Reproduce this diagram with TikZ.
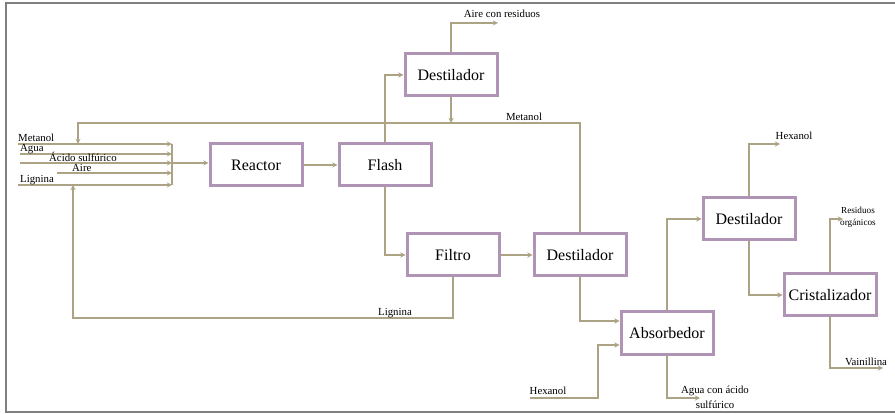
\documentclass[tikz,border=0pt]{standalone}
\usepackage{fontspec}
\setmainfont{Liberation Serif}
\usetikzlibrary{arrows}
\definecolor{boxcol}{HTML}{B094B5}
\definecolor{linecol}{HTML}{ABA384}
\definecolor{framecol}{HTML}{7F7F7F}

\begin{document}
\begin{tikzpicture}[x=1pt,y=-1pt]
\tikzstyle{box}=[draw=boxcol, line width=3pt, fill=white, minimum width=92pt, minimum height=42pt, inner sep=0pt, font=\fontsize{16}{18}\selectfont]
\tikzstyle{flow}=[draw=linecol, line width=1.3pt, ->, >=stealth]
\tikzstyle{lbl}=[inner sep=0pt, font=\fontsize{10.8}{15}\selectfont]
\useasboundingbox (0,0) rectangle (895,414);
\draw[framecol, line width=2pt] (895,3) -- (6,3) -- (6,412) -- (895,412);

% unit operations
\draw (256,165) node (reac) [box] {Reactor};
\draw (385,165) node (flash) [box] {Flash};
\draw (451,75) node (dest1) [box] {Destilador};
\draw (453,255) node (filt) [box] {Filtro};
\draw (580,255) node (dest2) [box] {Destilador};
\draw (667,333) node (absor) [box] {Absorbedor};
\draw (749,219) node (dest3) [box] {Destilador};
\draw (830,295) node (crist) [box] {Cristalizador};

% feed streams
\coordinate (metIn) at (18,144);  \coordinate (metMix) at (172,144);
\coordinate (aguaIn) at (20,154); \coordinate (aguaMix) at (172,154);
\coordinate (acidIn) at (20,163); \coordinate (acidMix) at (172,163);
\coordinate (aireIn) at (57,173); \coordinate (aireMix) at (172,173);
\coordinate (ligIn) at (18,185);  \coordinate (ligMix) at (172,185);
\draw[flow] (metIn) -- (metMix);
\draw[flow] (aguaIn) -- (aguaMix);
\draw[flow] (acidIn) -- (acidMix);
\draw[flow] (aireIn) -- (aireMix);
\draw[flow] (ligIn) -- (ligMix);
\draw[linecol, line width=1.3pt] (metMix) -- (ligMix);
\draw[flow] (acidMix) -- (acidMix -| reac.west);
\node[lbl, anchor=base west] (lMet) at (18,142) {Metanol};
\node[lbl, anchor=base west] (lAgua) at (20,152) {Agua};
\node[lbl, anchor=base west] (lAcid) at (49,162) {Ácido sulfúrico};
\node[lbl, anchor=base west] (lAire) at (72,172) {Aire};
\node[lbl, anchor=base west] (lLig) at (20,183) {Lignina};

% main line
\draw[flow] (reac) -- (flash);
\draw[flow] (flash.north) |- (dest1.west);
\draw[flow] (flash.south) |- (filt.west);
\draw[flow] (filt) -- (dest2);

% outlet streams
\coordinate (aireOut) at (498,23);
\coordinate (metBack) at (78,123);
\coordinate (metDown) at (78,144);
\coordinate (ligBack) at (73,318);
\coordinate (ligUp) at (73,185);
\coordinate (hexIn) at (530,398);
\coordinate (hexTurn) at (598,398);
\coordinate (aguaOut) at (700,398);
\coordinate (hexOut) at (780,144);
\coordinate (resOut) at (843,219);
\coordinate (vaiOut) at (883,368);
\draw[flow] (dest1.north) |- (aireOut);
\draw[flow] (dest1.south) -- (dest1.south |- metBack);
\draw[flow] (dest2.north) |- (metBack) -- (metDown);
\draw[flow] (filt.south) |- (ligBack) -- (ligUp);
\draw[flow] (dest2.south) |- ([yshift=12pt]absor.west);
\draw[flow] (hexIn) -- (hexTurn) |- ([yshift=-12pt]absor.west);
\draw[flow] (absor.south) |- (aguaOut);
\draw[flow] (absor.north) |- (dest3.west);
\draw[flow] (dest3.north) |- (hexOut);
\draw[flow] (dest3.south) |- (crist.west);
\draw[flow] (crist.north) |- (resOut);
\draw[flow] (crist.south) |- (vaiOut);

\node[lbl] (lAireRes) at (502,14) {Aire con residuos};
\node[lbl] (lMetBack) at (524,117) {Metanol};
\node[lbl] (lLigBack) at (395,313) {Lignina};
\node[lbl] (lHexIn) at (548,391) {Hexanol};
\node[lbl, align=center] (lAgua2) at (715,397) {Agua con ácido\\sulfúrico};
\node[lbl] (lHexOut) at (794,136) {Hexanol};
\node[lbl, align=center, font=\fontsize{9.2}{12}\selectfont] (lRes) at (858,217) {Residuos\\orgánicos};
\node[lbl] (lVai) at (866,362) {Vainillina};
\end{tikzpicture}
\end{document}
